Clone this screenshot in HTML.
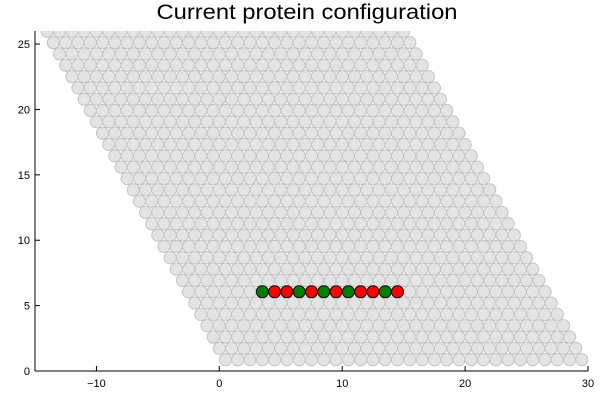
<!DOCTYPE html>
<html><head><meta charset="utf-8"><style>body{margin:0;background:#fff}svg{display:block;font-family:"Liberation Sans",sans-serif}</style></head>
<body>
<svg id="chart" width="600" height="400">
<text x="307" y="19" text-anchor="middle" font-size="21" textLength="301" lengthAdjust="spacingAndGlyphs">Current protein configuration</text>
<defs><clipPath id="cp"><rect x="35" y="31" width="553" height="340"/></clipPath></defs>
<g id="lattice" clip-path="url(#cp)"></g>
<g id="protein"></g>
<g id="axes"></g>
</svg>
<script>
const proteinX=[3.5,4.5,5.5,6.5,7.5,8.5,9.5,10.5,11.5,12.5,13.5,14.5];
const proteinY=[6.06,6.06,6.06,6.06,6.06,6.06,6.06,6.06,6.06,6.06,6.06,6.06];
const proteinType=["H","P","P","H","P","H","P","H","P","P","H","P"];
const xTicks=[-10,0,10,20,30];
const yTicks=[0,5,10,15,20,25];
const latticeRows=30, latticeCols=30;
const X0=35,X1=588,Y0=371,Y1=31;
const sx=v=>X0+(v+15)/45*(X1-X0);
const sy=v=>Y0-v/26*(Y0-Y1);
const NS="http://www.w3.org/2000/svg";
function mk(t,a,p){const e=document.createElementNS(NS,t);for(const k in a)e.setAttribute(k,a[k]);p.appendChild(e);return e;}
const lat=document.getElementById('lattice');
for(let j=1;j<=latticeRows;j++)for(let i=1;i<=latticeCols;i++){
 const c=mk('circle',{cx:sx(i-j/2),cy:sy(j*Math.sqrt(3)/2),r:6.1,fill:'#e3e3e3',stroke:'#c4c4c4','stroke-width':1},lat);
 
 
}
const pr=document.getElementById('protein');
proteinX.forEach((x,k)=>{
 const c=mk('circle',{cx:sx(x),cy:sy(proteinY[k]),r:6,fill:proteinType[k]==='H'?'#008000':'#ff0000',stroke:'#000','stroke-width':1},pr);
 
 
});
const ax=document.getElementById('axes');
mk('line',{x1:X0,y1:Y0,x2:X1,y2:Y0,stroke:'#000','stroke-width':1},ax);
mk('line',{x1:X0,y1:Y0,x2:X0,y2:Y1,stroke:'#000','stroke-width':1},ax);
xTicks.forEach(v=>{mk('line',{x1:sx(v),y1:Y0,x2:sx(v),y2:Y0-5,stroke:'#000'},ax);
 const t=mk('text',{x:sx(v),y:Y0+16,'text-anchor':'middle','font-size':11},ax);t.textContent=v<0?'−'+(-v):v;
 });
yTicks.forEach(v=>{mk('line',{x1:X0,y1:sy(v),x2:X0+5,y2:sy(v),stroke:'#000'},ax);
 const t=mk('text',{x:X0-5,y:sy(v)+4,'text-anchor':'end','font-size':11},ax);t.textContent=v;
 });
</script>
</body></html>
